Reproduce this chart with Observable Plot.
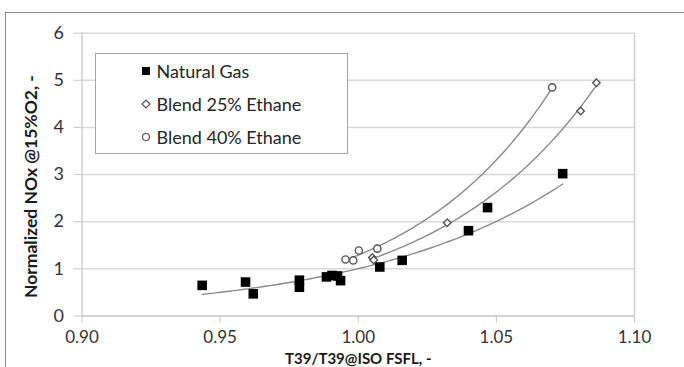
<!DOCTYPE html>
<html>
<head>
<meta charset="utf-8">
<script src="https://cdn.jsdelivr.net/npm/d3@7"></script>
<script src="https://cdn.jsdelivr.net/npm/@observablehq/plot@0.6"></script>
<style>
  html, body { margin: 0; padding: 0; background: #fff; overflow: hidden; }
  #wrap { position: relative; width: 684px; height: 367px; overflow: hidden; font-family: Lato, "Open Sans", sans-serif; }
  #frame { position: absolute; left: 5px; top: 12px; width: 720px; height: 420px; border: 1px solid #8c8c8c; box-sizing: border-box; }
  #chart { position: absolute; left: 0; top: 0; }
  #legend { position: absolute; left: 94.5px; top: 53px; width: 253px; height: 101px; border: 1px solid #a6a6a6; background: #fff; box-sizing: border-box; }
  .item { position: absolute; left: 0; height: 20px; display: flex; align-items: center; font-size: 18px; color: #262626; }
  .item svg { position: absolute; left: 43px; top: 3px; }
  .item span { position: absolute; left: 61px; white-space: nowrap; }
</style>
</head>
<body>
<div id="wrap">
  <div id="frame"></div>
  <div id="chart"></div>
  <div id="legend"></div>
</div>
<script>
// ---- data ----
const seriesNames = ["Natural Gas", "Blend 25% Ethane", "Blend 40% Ethane"];

const ngX = [0.9435, 0.9592, 0.9620, 0.9787, 0.9787, 0.9885, 0.9905, 0.9925, 0.9936, 1.0078, 1.0159, 1.0399, 1.0468, 1.0740];
const ngY = [0.65, 0.72, 0.47, 0.76, 0.61, 0.83, 0.86, 0.85, 0.75, 1.04, 1.18, 1.81, 2.30, 3.02];

const b25X = [1.0051, 1.0056, 1.0322, 1.0805, 1.0862];
const b25Y = [1.24, 1.19, 1.98, 4.35, 4.95];

const b40X = [0.9954, 0.9982, 1.0002, 1.0069, 1.0702];
const b40Y = [1.20, 1.18, 1.39, 1.43, 4.85];

const xTicks = [0.90, 0.95, 1.00, 1.05, 1.10];
const yTicks = [0, 1, 2, 3, 4, 5, 6];

const yTitle = "Normalized NOx @15%O2, -";
const xTitle = "T39/T39@ISO FSFL, -";

// ---- build tables ----
const toRows = (xs, ys, s) => xs.map((x, i) => ({x, y: ys[i], s}));
const ng = toRows(ngX, ngY, seriesNames[0]);
const b25 = toRows(b25X, b25Y, seriesNames[1]);
const b40 = toRows(b40X, b40Y, seriesNames[2]);

// exponential trendline (least squares on ln y), like a spreadsheet trendline
function expTrend(xs, ys) {
  const n = xs.length;
  const ly = ys.map(Math.log);
  const mx = d3.mean(xs), my = d3.mean(ly);
  let sxy = 0, sxx = 0;
  for (let i = 0; i < n; i++) { sxy += (xs[i]-mx)*(ly[i]-my); sxx += (xs[i]-mx)**2; }
  const b = sxy / sxx, a = my - b * mx;
  const [x0, x1] = d3.extent(xs);
  return d3.range(0, 81).map(k => { const x = x0 + (x1 - x0) * k / 80; return {x, y: Math.exp(a + b * x)}; });
}

const lineStyle = {x: "x", y: "y", stroke: "#8a8a8a", strokeWidth: 1.4, curve: "linear"};

const chart = Plot.plot({
  width: 684,
  height: 367,
  marginLeft: 81.5,
  marginRight: 50,
  marginTop: 32.7,
  marginBottom: 51.5,
  x: {domain: [0.9, 1.1]},
  y: {domain: [0, 6]},
  style: {fontFamily: "Lato, 'Open Sans', sans-serif", fontSize: "18px", color: "#333", background: "transparent"},
  marks: [
    Plot.ruleY(yTicks.filter(d => d > 0), {stroke: "#d9d9d9", strokeWidth: 1.5}),
    Plot.ruleX([xTicks[0], xTicks[xTicks.length - 1]], {y1: yTicks[0], y2: yTicks[yTicks.length - 1], stroke: "#cfcfcf", strokeWidth: 1.5}),
    Plot.ruleY([0], {stroke: "#c4c4c4", strokeWidth: 1.5}),
    Plot.axisY(yTicks, {tickSize: 8, tickPadding: 10, stroke: "#c8c8c8", tickFormat: d => String(d), label: null, fontSize: 18}),
    Plot.axisX(xTicks, {tickSize: 7, tickPadding: 8, stroke: "#c8c8c8", tickFormat: d3.format(".2f"), label: null, fontSize: 17}),
    Plot.text([yTitle], {frameAnchor: "left", textAnchor: "middle", dx: -51, dy: 12, rotate: -90, fontWeight: "bold", fontSize: 17.5, fill: "#1a1a1a"}),
    Plot.text([xTitle], {frameAnchor: "bottom", textAnchor: "middle", lineAnchor: "bottom", dy: 47.5, fontWeight: "bold", fontSize: 15, fill: "#1a1a1a"}),
    Plot.line(expTrend(ngX, ngY), lineStyle),
    Plot.line(expTrend(b25X, b25Y), lineStyle),
    Plot.line(expTrend(b40X, b40Y), lineStyle),
    Plot.dot(ng, {x: "x", y: "y", symbol: "square", r: 5.4, fill: "#000", stroke: "none"}),
    Plot.dot(b25, {x: "x", y: "y", symbol: "diamond2", r: 3.4, fill: "#fff", stroke: "#555", strokeWidth: 1.4}),
    Plot.dot(b40, {x: "x", y: "y", symbol: "circle", r: 3.6, fill: "#fff", stroke: "#555", strokeWidth: 1.4})
  ]
});
document.getElementById("chart").appendChild(chart);

// ---- legend ----
const markers = [
  '<svg width="14" height="14"><rect x="3" y="3" width="8" height="8" fill="#000"/></svg>',
  '<svg width="14" height="14"><path d="M7 3 L11 7 L7 11 L3 7 Z" fill="#fff" stroke="#555" stroke-width="1.2"/></svg>',
  '<svg width="14" height="14"><circle cx="7" cy="7" r="3.5" fill="#fff" stroke="#555" stroke-width="1.2"/></svg>'
];
const legendTops = [7, 40, 73];
const legend = document.getElementById("legend");
seriesNames.forEach((name, i) => {
  const div = document.createElement("div");
  div.className = "item";
  div.style.top = legendTops[i] + "px";
  div.innerHTML = markers[i] + "<span>" + name + "</span>";
  legend.appendChild(div);
});
</script>
</body>
</html>
